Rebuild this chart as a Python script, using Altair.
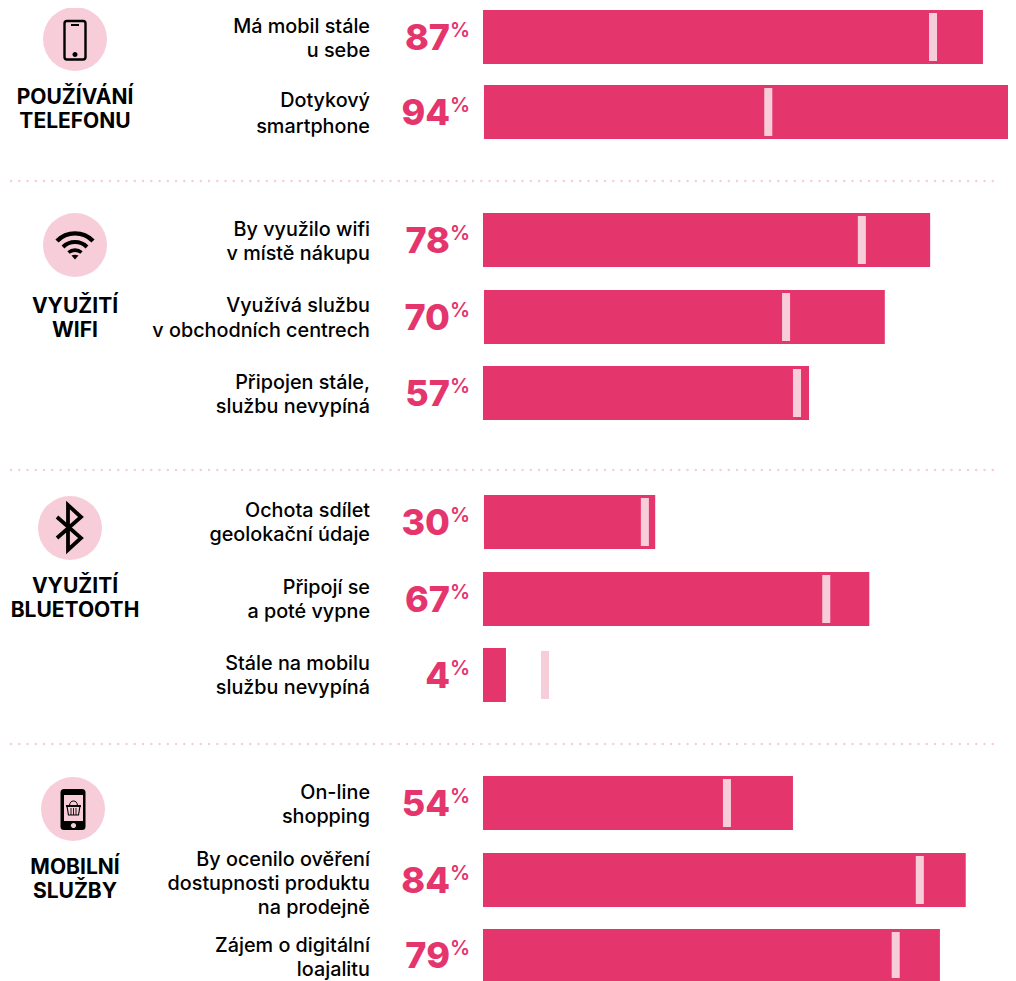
import altair as alt
import pandas as pd

# ---- data ----
row_labels = [
    ["Má mobil stále", "u sebe"], ["Dotykový", "smartphone"],
    ["By využilo wifi", "v místě nákupu"], ["Využívá službu", "v obchodních centrech"],
    ["Připojen stále,", "službu nevypíná"], ["Ochota sdílet", "geolokační údaje"],
    ["Připojí se", "a poté vypne"], ["Stále na mobilu", "službu nevypíná"],
    ["On-line", "shopping"], ["By ocenilo ověření", "dostupnosti produktu", "na prodejně"],
    ["Zájem o digitální", "loajalitu"],
]
percent_labels = [87, 94, 78, 70, 57, 30, 67, 4, 54, 84, 79]
bar_ends = [87.1, 94, 77.9, 70.0, 56.8, 30.0, 67.3, 4.0, 54.0, 84.1, 79.6]
bar_starts = [0, 0.17, 0, 0.17, 0, 0.17, 0, 0, 0, 0, 0]
marker_values = [78.4, 49.7, 66.0, 52.8, 54.7, 28.2, 59.8, 10.8, 42.5, 76.1, 71.9]
group_labels = [["POUŽÍVÁNÍ", "TELEFONU"], ["VYUŽITÍ", "WIFI"], ["VYUŽITÍ", "BLUETOOTH"], ["MOBILNÍ", "SLUŽBY"]]

# ---- layout (page pixels, minus the 8px page margin where used) ----
W, H = 1000, 973
M = 8
bar_tops = [10, 85, 213, 290, 366, 495, 572, 648, 776, 853, 929]
bar_bots = [64, 139, 267, 344, 420, 549, 626, 702, 830, 907, 981]
line_ys = [[27, 51], [101, 127], [230, 254], [306, 331], [383, 407], [511, 535],
           [588, 612], [664, 688], [793, 817], [860, 884, 908], [946, 970]]
group_ys = [[98, 122], [307, 331], [587, 611], [868, 892]]
sep_ys = [181, 470, 744]
circles = [(75, 39), (75, 245), (70, 528), (73, 809)]

PINK, LIGHT, BLACK = "#e5356d", "#f7cdda", "#000000"
FONT = "Inter"
PX = 5.74
x_scale = alt.Scale(domain=[(0 - (483 - M)) / PX, (W - (483 - M)) / PX], range=[0, W], clamp=True)
y_scale = alt.Scale(domain=[0, H], range=[0, H])
X = alt.X("a:Q", scale=x_scale, axis=None)
Y = alt.Y("t:Q", scale=y_scale, axis=None)


def px_to_x(px):
    return (px - 483) / PX


rows = pd.DataFrame({
    "a": bar_starts, "b": bar_ends, "m": marker_values,
    "t": [v - M for v in bar_tops], "u": [v - M for v in bar_bots],
    "mt": [v - M + 3 for v in bar_tops], "mu": [v - M - 3 for v in bar_bots],
    "num": [str(v) for v in percent_labels],
    "c": [(a + b) / 2 - M + 1.5 for a, b in zip(bar_tops, bar_bots)],
})
bars = alt.Chart(rows).mark_rect(color=PINK).encode(x=X, x2="b:Q", y=Y, y2="u:Q")
marks = alt.Chart(rows).transform_calculate(lo="datum.m-0.7", hi="datum.m+0.7").mark_rect(color=LIGHT).encode(
    x=alt.X("lo:Q", scale=x_scale, axis=None), x2="hi:Q",
    y=alt.Y("mt:Q", scale=y_scale, axis=None), y2="mu:Q")
nums = alt.Chart(rows).mark_text(font=FONT, fontWeight=800, fontSize=36, color=PINK, align="right", baseline="middle").encode(
    x=alt.value(450 - M), y=alt.Y("c:Q", scale=y_scale, axis=None), text="num:N")
pcts = alt.Chart(rows).transform_calculate(p="'%'", c2="datum.c-8").mark_text(
    font=FONT, fontWeight=600, fontSize=20, color=PINK, align="left", baseline="middle").encode(
    x=alt.value(450 - M), y=alt.Y("c2:Q", scale=y_scale, axis=None), text="p:N")

lab = pd.DataFrame([{"s": s, "t": y - M} for ls, ys in zip(row_labels, line_ys) for s, y in zip(ls, ys)])
labels = alt.Chart(lab).mark_text(font=FONT, fontWeight=500, fontSize=19.8, color=BLACK, align="right", baseline="middle").encode(
    x=alt.value(370 - M), y=Y, text="s:N")
grp = pd.DataFrame([{"s": s, "t": y - M} for ls, ys in zip(group_labels, group_ys) for s, y in zip(ls, ys)])
groups = alt.Chart(grp).mark_text(font=FONT, fontWeight=700, fontSize=21, color=BLACK, align="center", baseline="middle").encode(
    x=alt.value(75 - M), y=Y, text="s:N")

seps = alt.Chart(pd.DataFrame({"t": [v - M for v in sep_ys]})).mark_rule(
    color=LIGHT, strokeWidth=2.4, strokeCap="round", strokeDash=[0.1, 8.15]).encode(
    x=alt.value(11 - M), x2=alt.value(998.5 - M), y=Y)

circ = pd.DataFrame({"cx": [px_to_x(c[0]) for c in circles], "t": [c[1] - M for c in circles]})
CX = alt.X("cx:Q", scale=x_scale, axis=None)
discs = alt.Chart(circ).mark_point(shape="circle", filled=True, size=4 * 32 * 32, color=LIGHT, opacity=1).encode(x=CX, y=Y)


def icon(i, path, **kw):
    d = pd.DataFrame({"cx": [px_to_x(circles[i][0])], "t": [circles[i][1] - M]})
    return alt.Chart(d).mark_point(shape=path, size=4, opacity=1, **kw).encode(x=CX, y=Y)


def rrect(x0, y0, x1, y1, r):
    return (f"M{x0+r},{y0}L{x1-r},{y0}Q{x1},{y0} {x1},{y0+r}L{x1},{y1-r}Q{x1},{y1} {x1-r},{y1}"
            f"L{x0+r},{y1}Q{x0},{y1} {x0},{y1-r}L{x0},{y0+r}Q{x0},{y0} {x0+r},{y0}Z")


def dot(cx, cy, r):
    return f"M{cx-r},{cy}A{r},{r} 0 1 1 {cx+r},{cy}A{r},{r} 0 1 1 {cx-r},{cy}Z"


stroked = dict(filled=False, stroke=BLACK, strokeCap="butt")
solid = dict(filled=True, fill=BLACK, strokeWidth=0)
icons = [
    # phone
    icon(0, rrect(-10.5, -18, 10.5, 20.5, 2.5), strokeWidth=2.4, **stroked),
    icon(0, "M-4,-14L4,-14", strokeWidth=2, **stroked),
    icon(0, dot(0, 15.5, 2.5), **solid),
    # wifi
    icon(1, "M-18,-4A25,25 0 0 1 18,-4", strokeWidth=4.4, **stroked),
    icon(1, "M-12,2A17,17 0 0 1 12,2", strokeWidth=4, **stroked),
    icon(1, "M-6.5,7.5A10,10 0 0 1 6.5,7.5", strokeWidth=3.6, **stroked),
    icon(1, "M-3.5,10.5Q0,9 3.5,10.5L0,14.5Z", **solid),
    # bluetooth
    icon(2, "M-13,-11L11,10L-2,22L-2,-23L11,-11L-13,10", strokeWidth=3.8, filled=False, stroke=BLACK, strokeJoin="miter"),
    # mobile shopping
    icon(3, rrect(-12.5, -20, 12.5, 21, 3.5), **solid),
    icon(3, "M-9,-14L10,-14L10,12L-9,12Z", filled=True, fill=LIGHT, strokeWidth=0),
    icon(3, dot(0.5, 16.5, 2.6), filled=True, fill=LIGHT, strokeWidth=0),
    icon(3, "M-6,-3L7,-3L5.5,6L-4.5,6Z", strokeWidth=1.1, **stroked),
    icon(3, "M-7,-3L8,-3", strokeWidth=1.8, **stroked),
    icon(3, "M-3.5,-3.5Q-3,-8 0.5,-8Q4,-8 4.5,-3.5", strokeWidth=1, **stroked),
    icon(3, "M-2,-1L-2,6M0.5,-1L0.5,6M3,-1L3,6", strokeWidth=0.9, **stroked),
]

chart = alt.layer(seps, discs, *icons, labels, groups, bars, marks, nums, pcts).properties(
    width=W, height=H, padding=0, background="white", autosize=alt.AutoSizeParams(type="none")
).configure_view(stroke=None)

chart.save("out.html", embed_options={"renderer": "svg", "actions": False})
